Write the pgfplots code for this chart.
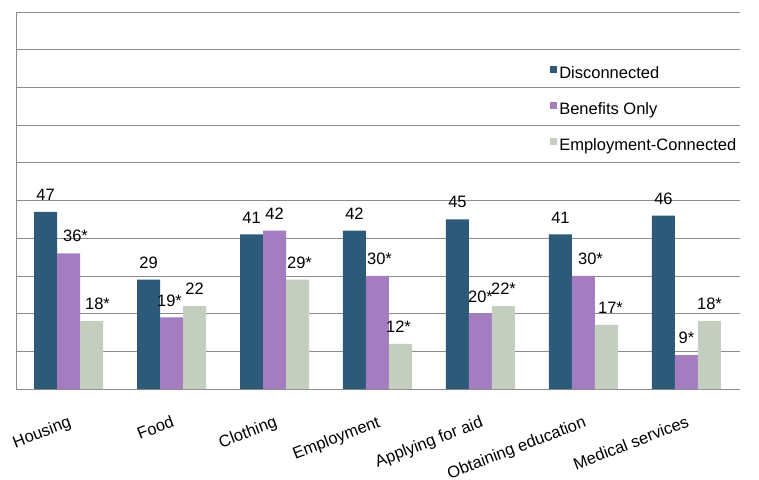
\documentclass[border=0pt]{standalone}
\usepackage{fontspec}
\setmainfont{Liberation Sans}
\usepackage{pgfplots}
\pgfplotsset{compat=1.18}
\definecolor{cDis}{HTML}{2C5A78}
\definecolor{cBen}{HTML}{A37DBF}
\definecolor{cEmp}{HTML}{C3CEBE}
\definecolor{cGrid}{HTML}{8C8C8C}
\newcommand{\chartfont}{\fontsize{16.5}{19}\selectfont}
\begin{document}
\begin{tikzpicture}
\begin{axis}[
  scale only axis, width=724pt, height=377pt,
  xmin=-0.51, xmax=6.52, ymin=0, ymax=100,
  ybar=0pt, bar width=23pt,
  axis lines*=left,
  axis line style={draw=cGrid, line width=0.8pt},
  ytick={0,10,...,100}, yticklabels={},
  ymajorgrids, grid style={draw=cGrid, line width=0.8pt},
  major tick length=0pt,
  xtick={0,...,6},
  xticklabels={Housing,Food,Clothing,Employment,Applying for aid,Obtaining education,Medical services},
  xticklabel style={rotate=21, anchor=north east, inner sep=0pt, yshift=-24pt, xshift=-10pt, font=\chartfont},
  point meta=explicit symbolic,
  nodes near coords,
  nodes near coords style={font=\chartfont, anchor=south, inner sep=0pt, yshift=11pt, text=black},
  legend cell align=left,
  legend style={at={(0.7370,0.8607)}, anchor=north west, draw=none, fill=none, inner sep=0pt,
    row sep=16pt, font=\chartfont,
    nodes={inner xsep=2.5pt, inner ysep=2pt, text height=12pt, text depth=4pt}},
]
\addplot[fill=cDis, draw=none, legend image code/.code={\fill[cDis] (0pt,2pt) rectangle (7pt,9pt);}]
  coordinates {(0,47) [47] (1,29) [29] (2,41) [41] (3,42) [42] (4,45) [45] (5,41) [41] (6,46) [46]};
\addplot[fill=cBen, draw=none, legend image code/.code={\fill[cBen] (0pt,2pt) rectangle (7pt,9pt);}]
  coordinates {(0,36) [\kern14pt 36*] (1,19) [\kern-4pt 19*] (2,42) [42] (3,30) [\kern4pt 30*] (4,20) [20*] (5,30) [\kern14pt 30*] (6,9) [9*]};
\addplot[fill=cEmp, draw=none, legend image code/.code={\fill[cEmp] (0pt,2pt) rectangle (7pt,9pt);}]
  coordinates {(0,18) [\kern12pt 18*] (1,22) [22] (2,29) [\kern4pt 29*] (3,12) [\kern-4pt 12*] (4,22) [22*] (5,17) [\kern8pt 17*] (6,18) [18*]};
\legend{Disconnected,Benefits Only,Employment-Connected}
\end{axis}
\pgfresetboundingbox
\path[use as bounding box] (-16pt,-90pt) rectangle (743pt,389pt);
\end{tikzpicture}
\end{document}
